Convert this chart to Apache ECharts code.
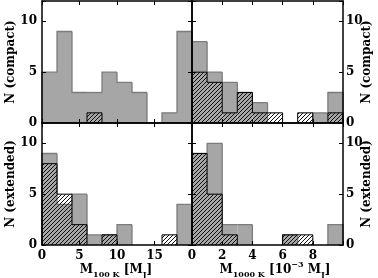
<!DOCTYPE html>
<html><head><meta charset="utf-8">
<script src="https://cdn.jsdelivr.net/npm/echarts@6/dist/echarts.min.js"></script>
<style>html,body{margin:0;padding:0;background:#fff}#c{width:378px;height:278px}</style>
</head><body><div id="c"></div>
<script>
// Bin edges
const edges100 = [0,2,4,6,8,10,12,14,16,18,20];
const edges1000 = [0,1,2,3,4,5,6,7,8,9,10];
// Counts per bin
const compact100Gray   = [5,9,3,3,5,4,3,0,1,9];
const compact100Hatch  = [0,0,0,1,0,0,0,0,0,0];
const compact1000Gray  = [8,5,4,3,2,0,0,0,1,3];
const compact1000Hatch = [5,4,1,3,1,1,0,1,0,1];
const extended100Gray   = [9,4,5,1,1,2,0,0,0,4];
const extended100Hatch  = [8,5,2,0,1,0,0,0,1,0];
const extended1000Gray  = [9,10,2,2,0,0,1,0,0,2];
const extended1000Hatch = [9,5,1,0,0,0,1,1,0,0];
// Tick labels
const xTicks100 = [0,5,10,15];
const xTicks1000 = [0,2,4,6,8];
const yTicks = [0,5,10];

const FONT = 'DejaVu Serif';
const GRAY = '#a6a6a6';
const GRAY_EDGE = '#7c7c7c';

function makePattern(){
  const s = 4;
  const c = document.createElement('canvas');
  c.width = s; c.height = s;
  const ctx = c.getContext('2d');
  ctx.strokeStyle = '#111';
  ctx.lineWidth = 1;
  ctx.beginPath();
  ctx.moveTo(-1, s+1); ctx.lineTo(s+1, -1);
  ctx.moveTo(-1, 1); ctx.lineTo(1, -1);
  ctx.moveTo(s-1, s+1); ctx.lineTo(s+1, s-1);
  ctx.stroke();
  return {image: c, repeat: 'repeat'};
}
const hatch = makePattern();

function binData(edges, counts){
  return counts.map((h, i) => [edges[i], edges[i+1], h, i > 0 ? counts[i-1] : 0, i === counts.length-1 ? 1 : 0]);
}

function makeRender(kind){
  return function(params, api){
    const x0 = api.value(0), x1 = api.value(1), h = api.value(2), hp = api.value(3), last = api.value(4);
    const p00 = api.coord([x0, 0]);
    const p0h = api.coord([x0, h]);
    const p1h = api.coord([x1, h]);
    const p0p = api.coord([x0, hp]);
    const p10 = api.coord([x1, 0]);
    const children = [];
    if (h > 0) {
      children.push({type:'rect', shape:{x:p00[0], y:p1h[1], width:p1h[0]-p00[0], height:p00[1]-p1h[1]},
        style:{fill: kind === 'gray' ? GRAY : hatch}});
    }
    const stroke = kind === 'gray' ? GRAY_EDGE : '#000';
    const lw = kind === 'gray' ? 1.3 : 1;
    let pts;
    if (h > 0) {
      pts = [p0p, p0h, p1h];
      if (last) pts.push(p10);
    } else if (hp > 0) {
      pts = [p0p, p00];
    }
    if (pts) children.push({type:'polyline', shape:{points:pts}, style:{stroke:stroke, lineWidth:lw, fill:null}});
    return {type:'group', children};
  };
}

const grids = [
  {left:42, top:1, width:150, height:122},
  {left:192, top:1, width:151, height:122},
  {left:42, top:123, width:150, height:122},
  {left:192, top:123, width:151, height:122}
];
const panelInfo = [
  {edges: edges100, max:20, interval:5, ticks:xTicks100, gray:compact100Gray, hatchD:compact100Hatch, xLabels:false, side:'left'},
  {edges: edges1000, max:10, interval:2, ticks:xTicks1000, gray:compact1000Gray, hatchD:compact1000Hatch, xLabels:false, side:'right'},
  {edges: edges100, max:20, interval:5, ticks:xTicks100, gray:extended100Gray, hatchD:extended100Hatch, xLabels:true, side:'left'},
  {edges: edges1000, max:10, interval:2, ticks:xTicks1000, gray:extended1000Gray, hatchD:extended1000Hatch, xLabels:true, side:'right'}
];

const lineStyle = {color:'#000', width:1.5};
const tickStyle = {inside:true, length:4, lineStyle:{color:'#000', width:1}};
const labelBase = {fontFamily:FONT, fontWeight:'bold', fontSize:12, color:'#000'};

const xAxis = [], yAxis = [], series = [];
panelInfo.forEach((p, g) => {
  const ticks = p.ticks;
  xAxis.push({type:'value', gridIndex:g, position:'bottom', min:0, max:p.max, interval:p.interval, z:10,
    axisLine:{show:true, onZero:false, lineStyle}, axisTick:tickStyle, splitLine:{show:false},
    axisLabel:Object.assign({show:p.xLabels, margin:5, formatter:v => ticks.includes(v) ? String(v) : ''}, labelBase)});
  xAxis.push({type:'value', gridIndex:g, position:'top', min:0, max:p.max, interval:p.interval, z:10,
    axisLine:{show:true, onZero:false, lineStyle}, axisTick:tickStyle, splitLine:{show:false}, axisLabel:{show:false}});
  yAxis.push({type:'value', gridIndex:g, position:'left', min:0, max:12, interval:5, z:10,
    axisLine:{show:true, onZero:false, lineStyle}, axisTick:tickStyle, splitLine:{show:false},
    axisLabel:Object.assign({show:p.side === 'left', margin:5, formatter:v => yTicks.includes(v) ? String(v) : ''}, labelBase)});
  yAxis.push({type:'value', gridIndex:g, position:'right', min:0, max:12, interval:5, z:10,
    axisLine:{show:true, onZero:false, lineStyle}, axisTick:tickStyle, splitLine:{show:false},
    axisLabel:Object.assign({show:p.side === 'right', margin:3, formatter:v => yTicks.includes(v) ? String(v) : ''}, labelBase)});
  series.push({type:'custom', xAxisIndex:2*g, yAxisIndex:2*g, clip:false, z:2, silent:true,
    renderItem: makeRender('gray'), data: binData(p.edges, p.gray)});
  series.push({type:'custom', xAxisIndex:2*g, yAxisIndex:2*g, clip:false, z:3, silent:true,
    renderItem: makeRender('hatch'), data: binData(p.edges, p.hatchD)});
});

const mainR = {fontFamily:FONT, fontWeight:'bold', fontSize:12, lineHeight:18, verticalAlign:'middle', color:'#000'};
const subR = {fontFamily:FONT, fontWeight:'bold', fontSize:8, lineHeight:8, verticalAlign:'bottom', color:'#000'};
const supR = {fontFamily:FONT, fontWeight:'bold', fontSize:8, lineHeight:8, verticalAlign:'top', color:'#000'};
const rich = {m:mainR, s:subR, p:supR};

function yName(text, x, y){
  return {type:'text', x:x, y:y, rotation:Math.PI/2, z:20,
    style:{text:text, fontFamily:FONT, fontWeight:'bold', fontSize:12, fill:'#000', align:'center', verticalAlign:'middle'}};
}

const option = {
  animation:false,
  backgroundColor:'#fff',
  grid: grids,
  xAxis, yAxis, series,
  graphic: [
    yName('N (compact)', 11, 62),
    yName('N (extended)', 11, 184),
    yName('N (compact)', 367, 62),
    yName('N (extended)', 367, 184),
    {type:'text', x:116, y:270, z:20, style:{text:'{m|M}{s|100 K}{m| [M}{s|J}{m|]}', rich:rich, align:'center', verticalAlign:'middle'}},
    {type:'text', x:275, y:270, z:20, style:{text:'{m|M}{s|1000 K}{m| [10}{p|−3}{m| M}{s|J}{m|]}', rich:rich, align:'center', verticalAlign:'middle'}}
  ]
};

const chart = echarts.init(document.getElementById('c'), null, {renderer:'canvas'});
chart.setOption(option);
</script>
</body></html>
